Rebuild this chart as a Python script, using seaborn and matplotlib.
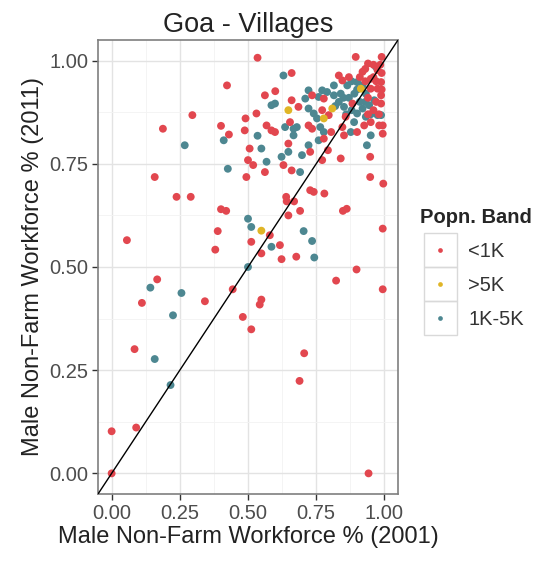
import numpy as np
import pandas as pd
import matplotlib
matplotlib.use("Agg")
import matplotlib.pyplot as plt
import seaborn as sns
from matplotlib.patches import Rectangle

# Values (share of male non-farm workforce)
red_x = [0.056, 0.512, 0.617, 0.549, 0.380, 0.623, 0.677, 0.898, 0.823, 0.994,
         0.167, 0.111, 0.342, 0.444, 0.549, 0.543, 0.481, 0.512, 0.084, 0.706,
         0.689, 0.000, 0.090, 0.000, 0.942,
         0.535, 0.660, 0.423, 0.895, 0.940, 0.990, 0.562, 0.600, 0.660, 0.685,
         0.296, 0.188, 0.491, 0.531, 0.401, 0.430, 0.488, 0.568, 0.586, 0.599,
         0.654, 0.722, 0.735, 0.506, 0.648, 0.728, 0.793, 0.778, 0.805, 0.852,
         0.500, 0.519, 0.562, 0.494, 0.630, 0.660, 0.772, 0.840, 0.948, 0.948,
         0.996, 0.994, 0.994, 0.158, 0.238, 0.290, 0.401, 0.420, 0.389, 0.580,
         0.640, 0.642, 0.669, 0.648, 0.691, 0.728, 0.741, 0.780, 0.848, 0.862,
         0.994,
         0.833, 0.846, 0.920, 0.975, 0.988, 0.950, 0.735, 0.778, 0.950, 0.975,
         0.988, 0.988, 0.883, 0.950, 0.926, 0.981, 0.858, 0.796, 0.772, 0.846,
         0.900, 0.960, 0.930, 0.970, 0.940, 0.960, 0.990, 0.910, 0.870, 0.980,
         0.940, 0.970, 0.990, 0.960, 0.930, 0.985]
red_y = [0.565, 0.561, 0.553, 0.533, 0.542, 0.519, 0.525, 0.494, 0.467, 0.446,
         0.470, 0.413, 0.417, 0.446, 0.421, 0.409, 0.379, 0.349, 0.301, 0.291,
         0.224, 0.102, 0.111, 0.000, 0.000,
         1.007, 0.970, 0.940, 1.009, 0.993, 1.009, 0.916, 0.926, 0.904, 0.888,
         0.868, 0.835, 0.860, 0.872, 0.842, 0.821, 0.831, 0.843, 0.831, 0.827,
         0.851, 0.843, 0.835, 0.787, 0.799, 0.779, 0.783, 0.811, 0.827, 0.819,
         0.759, 0.747, 0.730, 0.718, 0.747, 0.734, 0.759, 0.763, 0.767, 0.718,
         0.702, 0.843, 0.823, 0.718, 0.670, 0.670, 0.640, 0.636, 0.587, 0.577,
         0.670, 0.659, 0.659, 0.625, 0.636, 0.686, 0.682, 0.678, 0.636, 0.641,
         0.593,
         0.964, 0.952, 0.973, 0.977, 0.948, 0.956, 0.916, 0.908, 0.932, 0.932,
         0.916, 0.896, 0.896, 0.851, 0.843, 0.843, 0.864, 0.868, 0.880, 0.839,
         0.827, 0.960, 0.950, 0.900, 0.910, 0.880, 0.970, 0.960, 0.960, 0.870,
         0.870, 0.950, 0.930, 0.990, 0.980, 0.990]

yellow_x = [0.648, 0.914, 0.778, 0.809, 0.549]
yellow_y = [0.880, 0.932, 0.860, 0.884, 0.588]

teal_x = [0.735, 0.586, 0.743, 0.500, 0.142, 0.256, 0.225, 0.158, 0.216, 0.630,
          0.969, 0.586, 0.599, 0.411, 0.268, 0.535, 0.636, 0.667, 0.667, 0.549,
          0.722, 0.759, 0.648, 0.623, 0.698, 0.936, 0.988, 0.568, 0.426, 0.691,
          0.500, 0.512, 0.704,
          0.815, 0.864, 0.900, 0.790, 0.772, 0.722, 0.710, 0.759, 0.815, 0.833,
          0.852, 0.932, 0.963, 0.944, 0.920, 0.900, 0.932, 0.975, 0.889, 0.741,
          0.722, 0.753, 0.765, 0.679, 0.877, 0.950, 0.778,
          0.870, 0.890, 0.910, 0.860, 0.840, 0.930, 0.880, 0.950,
          0.850, 0.880, 0.820, 0.900, 0.920]
teal_y = [0.563, 0.549, 0.523, 0.500, 0.450, 0.437, 0.383, 0.277, 0.214, 0.964,
          0.985, 0.892, 0.896, 0.807, 0.795, 0.818, 0.839, 0.835, 0.819, 0.787,
          0.795, 0.807, 0.779, 0.767, 0.771, 0.795, 0.868, 0.755, 0.738, 0.730,
          0.617, 0.597, 0.587,
          0.940, 0.940, 0.948, 0.924, 0.928, 0.928, 0.908, 0.912, 0.916, 0.900,
          0.888, 0.920, 0.904, 0.892, 0.884, 0.872, 0.864, 0.868, 0.851, 0.872,
          0.884, 0.860, 0.839, 0.839, 0.827, 0.819, 0.827,
          0.910, 0.920, 0.900, 0.870, 0.920, 0.900, 0.880, 0.870,
          0.910, 0.950, 0.890, 0.930, 0.940]

bands = ["<1K", ">5K", "1K-5K"]
band_colors = ["#E2474F", "#E0B526", "#4D8791"]

df = pd.concat([
    pd.DataFrame({"x": teal_x, "y": teal_y, "band": "1K-5K"}),
    pd.DataFrame({"x": red_x, "y": red_y, "band": "<1K"}),
    pd.DataFrame({"x": yellow_x, "y": yellow_y, "band": ">5K"}),
], ignore_index=True)

sns.set_style("white")
plt.rcParams["font.family"] = ["Liberation Sans", "DejaVu Sans"]

fig = plt.figure(figsize=(5.42, 5.65), dpi=100)
ax = fig.add_axes([98 / 542, 1 - 494 / 565, 300 / 542, 454 / 565])

sns.scatterplot(data=df, x="x", y="y", hue="band", hue_order=bands,
                palette=band_colors, s=32, linewidth=0, ax=ax, zorder=3)

# y = x reference line
ax.axline((0, 0), slope=1, color="black", lw=1.0, zorder=4)

ticks = [0.0, 0.25, 0.5, 0.75, 1.0]
ax.set_xlim(-0.05, 1.05)
ax.set_ylim(-0.05, 1.05)
ax.set_xticks(ticks)
ax.set_yticks(ticks)
ax.set_xticklabels([f"{t:.2f}" for t in ticks])
ax.set_yticklabels([f"{t:.2f}" for t in ticks])
ax.set_xticks([0.125, 0.375, 0.625, 0.875], minor=True)
ax.set_yticks([0.125, 0.375, 0.625, 0.875], minor=True)
ax.grid(True, which="major", color="#E3E3E3", lw=1.0, zorder=0)
ax.grid(True, which="minor", color="#F3F3F3", lw=0.6, zorder=0)
ax.set_axisbelow(True)
ax.tick_params(which="major", direction="out", length=4, width=1,
               color="#333333", labelsize=14.5, labelcolor="#4D4D4D", pad=3,
               bottom=True, left=True)
ax.tick_params(which="minor", length=0)
for sp in ax.spines.values():
    sp.set_color("#7F7F7F")
    sp.set_linewidth(1.2)

ax.set_title("Goa - Villages", fontsize=19.5, pad=6, color="#222222")
ax.set_xlabel("Male Non-Farm Workforce % (2001)", fontsize=17, labelpad=2, color="#222222")
ax.set_ylabel("Male Non-Farm Workforce % (2011)", fontsize=17, labelpad=4, color="#222222")

sns.move_legend(ax, "upper left", bbox_to_anchor=(1.04, 0.652), frameon=False,
                title="Popn. Band", fontsize=14.5, title_fontsize=14.5,
                markerscale=0.6, handletextpad=0.4, labelspacing=0.75,
                borderpad=0, alignment="left")
leg = ax.get_legend()
leg.get_title().set_fontweight("bold")
for t in leg.get_texts():
    t.set_color("#333333")

# grey key boxes like the ggplot legend
fig.canvas.draw()
for h in leg.legend_handles:
    bb = h.get_window_extent()
    cx, cy = (bb.x0 + bb.x1) / 2, (bb.y0 + bb.y1) / 2
    fig.patches.append(Rectangle(((cx - 16) / 542, (cy - 17) / 565), 33 / 542, 34 / 565,
                                 transform=fig.transFigure, fill=False,
                                 edgecolor="#D9D9D9", lw=1.0))

fig.savefig("out.png", dpi=100)
